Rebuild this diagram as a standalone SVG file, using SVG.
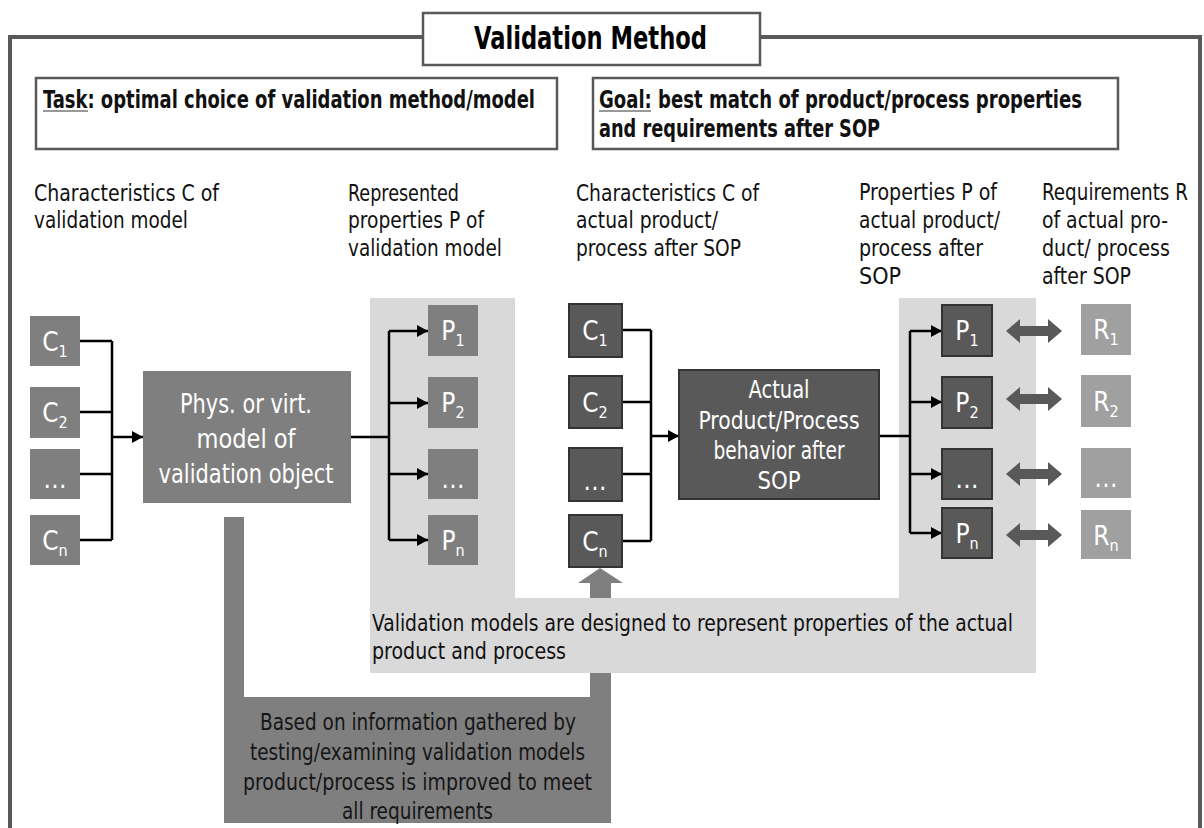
<svg xmlns="http://www.w3.org/2000/svg" width="1204" height="828" viewBox="0 0 1204 828">
<defs>
<style>
.f{font-family:"Liberation Sans Narrow","DejaVu Sans Condensed","Liberation Sans",sans-serif;}
.h{font-size:23px;fill:#111;}
.b{font-weight:bold;}
.w{fill:#fff;}
.lbl{font-size:26px;fill:#fff;text-anchor:middle;}
.sub{font-size:16px;}
.box{stroke:#595959;stroke-width:2.5;fill:#fff;}
.mid{fill:#7f7f7f;}
.dark{fill:#595959;stroke:#333;stroke-width:2;}
.req{fill:#a0a0a0;}
.ln{stroke:#000;stroke-width:2.5;fill:none;}
.ar{stroke:#000;stroke-width:2.5;fill:none;marker-end:url(#ah);}
.dbl{fill:#595959;}
.ul{stroke:#777;stroke-width:1.5;}
</style>
<marker id="ah" markerUnits="userSpaceOnUse" markerWidth="12" markerHeight="12" refX="11" refY="6" orient="auto">
<path d="M0,0 L11,6 L0,12 z" fill="#000"/>
</marker>
</defs>

<g id="frame">
<path d="M10,828 V37 H1200 V828" fill="none" stroke="#595959" stroke-width="4"/>
</g>

<g id="title">
<rect x="423" y="13" width="337" height="52" class="box" stroke-width="3"/>
<text class="f b" x="474" y="49" font-size="32" fill="#000" textLength="233" lengthAdjust="spacingAndGlyphs">Validation Method</text>
</g>

<g id="task">
<rect x="36" y="78" width="521" height="71" class="box"/>
<text class="f b" x="43" y="108" font-size="25" fill="#111" textLength="492" lengthAdjust="spacingAndGlyphs">Task: optimal choice of validation method/model</text>
<line class="ul" x1="43" y1="111" x2="88" y2="111"/>
</g>

<g id="goal">
<rect x="593" y="78" width="525" height="71" class="box"/>
<text class="f b" x="599" y="108" font-size="25" fill="#111" textLength="483" lengthAdjust="spacingAndGlyphs">Goal:  best match of product/process properties</text>
<line class="ul" x1="599" y1="111" x2="651" y2="111"/>
<text class="f b" x="599" y="137" font-size="25" fill="#111" textLength="281" lengthAdjust="spacingAndGlyphs">and requirements after SOP</text>
</g>

<g id="headers" class="f h">
<text x="34" y="201" textLength="185" lengthAdjust="spacingAndGlyphs">Characteristics C of</text>
<text x="34" y="228" textLength="154" lengthAdjust="spacingAndGlyphs">validation model</text>
<text x="348" y="201" textLength="111" lengthAdjust="spacingAndGlyphs">Represented</text>
<text x="348" y="228" textLength="136" lengthAdjust="spacingAndGlyphs">properties P of</text>
<text x="348" y="256" textLength="154" lengthAdjust="spacingAndGlyphs">validation model</text>
<text x="576" y="201" textLength="183" lengthAdjust="spacingAndGlyphs">Characteristics C of</text>
<text x="576" y="228" textLength="142" lengthAdjust="spacingAndGlyphs">actual product/</text>
<text x="576" y="256" textLength="165" lengthAdjust="spacingAndGlyphs">process after SOP</text>
<text x="859" y="200" textLength="138" lengthAdjust="spacingAndGlyphs">Properties P of</text>
<text x="859" y="228" textLength="141" lengthAdjust="spacingAndGlyphs">actual product/</text>
<text x="859" y="256" textLength="124" lengthAdjust="spacingAndGlyphs">process after</text>
<text x="859" y="284" textLength="42" lengthAdjust="spacingAndGlyphs">SOP</text>
<text x="1042" y="200" textLength="146" lengthAdjust="spacingAndGlyphs">Requirements R</text>
<text x="1042" y="228" textLength="126" lengthAdjust="spacingAndGlyphs">of actual pro-</text>
<text x="1042" y="256" textLength="128" lengthAdjust="spacingAndGlyphs">duct/ process</text>
<text x="1042" y="284" textLength="89" lengthAdjust="spacingAndGlyphs">after SOP</text>
</g>

<g id="feedback">
<path d="M224,517 H244 V697 H590 V583 H578 L600,568 L623,583 H611 V823 H224 Z" fill="#7f7f7f"/>
<g class="f" font-size="23" fill="#151515">
<text x="260" y="730" textLength="316" lengthAdjust="spacingAndGlyphs">Based on information gathered by</text>
<text x="250" y="760" textLength="335" lengthAdjust="spacingAndGlyphs">testing/examining validation models</text>
<text x="243" y="790" textLength="349" lengthAdjust="spacingAndGlyphs">product/process  is improved to meet</text>
<text x="342" y="819" textLength="151" lengthAdjust="spacingAndGlyphs">all requirements</text>
</g>
</g>

<g id="panel">
<path d="M370,298 H515 V598 H899 V298 H1036 V673 H370 Z" fill="#d9d9d9"/>
<g class="f" font-size="23" fill="#111">
<text x="372" y="631" textLength="641" lengthAdjust="spacingAndGlyphs">Validation models are designed to  represent properties of the actual</text>
<text x="372" y="659" textLength="194" lengthAdjust="spacingAndGlyphs">product and process</text>
</g>
</g>

<g id="connectors">
<path class="ln" d="M80,341 H112 M80,412 H112 M80,474 H112 M80,540 H112 M112,341 V540"/>
<path class="ar" d="M112,437 H143"/>
<path class="ln" d="M351,437 H389 M389,331 V540"/>
<path class="ar" d="M389,331 H428"/>
<path class="ar" d="M389,403 H428"/>
<path class="ar" d="M389,474 H428"/>
<path class="ar" d="M389,540 H428"/>
<path class="ln" d="M622,330 H651 M622,402 H651 M622,474 H651 M622,541 H651 M651,330 V541"/>
<path class="ar" d="M651,436 H679"/>
<path class="ln" d="M880,436 H910 M910,331 V533"/>
<path class="ar" d="M910,331 H942"/>
<path class="ar" d="M910,402 H942"/>
<path class="ar" d="M910,474 H942"/>
<path class="ar" d="M910,533 H942"/>
<g class="dbl">
<path d="M1006,331 l14,-12 v7 h28 v-7 l14,12 l-14,12 v-7 h-28 v7 z"/>
<path d="M1006,399 l14,-12 v7 h28 v-7 l14,12 l-14,12 v-7 h-28 v7 z"/>
<path d="M1006,474 l14,-12 v7 h28 v-7 l14,12 l-14,12 v-7 h-28 v7 z"/>
<path d="M1006,535 l14,-12 v7 h28 v-7 l14,12 l-14,12 v-7 h-28 v7 z"/>
</g>
</g>

<g id="C1"><rect x="30" y="316" width="50" height="50" class="mid"/><text class="f lbl" x="55" y="351">C<tspan class="sub" dy="6">1</tspan></text></g>
<g id="C2"><rect x="30" y="387" width="50" height="51" class="mid"/><text class="f lbl" x="55" y="422">C<tspan class="sub" dy="6">2</tspan></text></g>
<g id="C3"><rect x="30" y="449" width="50" height="50" class="mid"/><text class="f lbl" x="55" y="488">…</text></g>
<g id="Cn"><rect x="30" y="515" width="50" height="50" class="mid"/><text class="f lbl" x="55" y="550">C<tspan class="sub" dy="6">n</tspan></text></g>

<g id="model">
<rect x="143" y="371" width="208" height="132" class="mid"/>
<g class="f w" font-size="27" text-anchor="middle">
<text x="246" y="413" textLength="132" lengthAdjust="spacingAndGlyphs">Phys. or virt.</text>
<text x="246" y="448" textLength="99" lengthAdjust="spacingAndGlyphs">model  of</text>
<text x="246" y="483" textLength="175" lengthAdjust="spacingAndGlyphs">validation object</text>
</g>
</g>

<g id="P1"><rect x="428" y="305" width="50" height="51" class="mid"/><text class="f lbl" x="453" y="340">P<tspan class="sub" dy="6">1</tspan></text></g>
<g id="P2"><rect x="428" y="377" width="50" height="51" class="mid"/><text class="f lbl" x="453" y="412">P<tspan class="sub" dy="6">2</tspan></text></g>
<g id="P3"><rect x="428" y="449" width="50" height="50" class="mid"/><text class="f lbl" x="453" y="488">…</text></g>
<g id="Pn"><rect x="428" y="515" width="50" height="50" class="mid"/><text class="f lbl" x="453" y="550">P<tspan class="sub" dy="6">n</tspan></text></g>

<g id="AC1"><rect x="569" y="304" width="53" height="53" class="dark"/><text class="f lbl" x="595" y="340">C<tspan class="sub" dy="6">1</tspan></text></g>
<g id="AC2"><rect x="569" y="376" width="53" height="52" class="dark"/><text class="f lbl" x="595" y="412">C<tspan class="sub" dy="6">2</tspan></text></g>
<g id="AC3"><rect x="569" y="448" width="53" height="53" class="dark"/><text class="f lbl" x="595" y="490">…</text></g>
<g id="ACn"><rect x="569" y="515" width="53" height="52" class="dark"/><text class="f lbl" x="595" y="551">C<tspan class="sub" dy="6">n</tspan></text></g>

<g id="actual">
<rect x="679" y="370" width="200" height="129" class="dark"/>
<g class="f w" font-size="24" text-anchor="middle">
<text x="779" y="398" textLength="61" lengthAdjust="spacingAndGlyphs">Actual</text>
<text x="779" y="429" textLength="161" lengthAdjust="spacingAndGlyphs">Product/Process</text>
<text x="779" y="459" textLength="131" lengthAdjust="spacingAndGlyphs">behavior after</text>
<text x="779" y="489" textLength="43" lengthAdjust="spacingAndGlyphs">SOP</text>
</g>
</g>

<g id="AP1"><rect x="942" y="305" width="50" height="51" class="dark"/><text class="f lbl" x="967" y="340">P<tspan class="sub" dy="6">1</tspan></text></g>
<g id="AP2"><rect x="942" y="377" width="50" height="51" class="dark"/><text class="f lbl" x="967" y="412">P<tspan class="sub" dy="6">2</tspan></text></g>
<g id="AP3"><rect x="942" y="449" width="50" height="50" class="dark"/><text class="f lbl" x="967" y="488">…</text></g>
<g id="APn"><rect x="942" y="508" width="50" height="50" class="dark"/><text class="f lbl" x="967" y="543">P<tspan class="sub" dy="6">n</tspan></text></g>

<g id="R1"><rect x="1081" y="304" width="50" height="51" class="req"/><text class="f lbl" x="1106" y="339">R<tspan class="sub" dy="6">1</tspan></text></g>
<g id="R2"><rect x="1081" y="375" width="50" height="52" class="req"/><text class="f lbl" x="1106" y="411">R<tspan class="sub" dy="6">2</tspan></text></g>
<g id="R3"><rect x="1081" y="448" width="50" height="50" class="req"/><text class="f lbl" x="1106" y="487">…</text></g>
<g id="Rn"><rect x="1081" y="510" width="50" height="49" class="req"/><text class="f lbl" x="1106" y="545">R<tspan class="sub" dy="6">n</tspan></text></g>
</svg>
